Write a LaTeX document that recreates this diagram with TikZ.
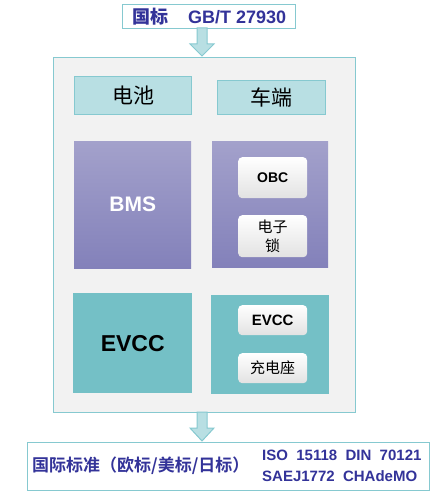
\documentclass[tikz,border=0pt]{standalone}
\usepackage{fontspec}
\setmainfont{Liberation Sans}
\newfontfamily\cjk{Noto Sans CJK SC}
\newfontfamily\cjkb{Noto Sans CJK SC Bold}
\usetikzlibrary{positioning}
\definecolor{navy}{HTML}{333399}
\definecolor{lteal}{HTML}{B8DFE3}
\definecolor{teal}{HTML}{74C0C6}
\definecolor{tealline}{HTML}{86C9D0}
\definecolor{mainbg}{HTML}{F2F2F2}
\definecolor{ptop}{HTML}{A3A1CB}
\definecolor{pbot}{HTML}{8381BA}
\definecolor{wbot}{HTML}{E2E2E2}
\tikzset{
  px/.style={x=1pt,y=-1pt},
  headbox/.style={draw=tealline,line width=1.2pt,fill=lteal,inner sep=0pt,anchor=north west},
  purplebox/.style={draw=none,top color=ptop,bottom color=pbot,inner sep=0pt,anchor=north west},
  tealbox/.style={draw=none,fill=teal,inner sep=0pt,anchor=north west},
  whitebox/.style={draw=none,rounded corners=4pt,top color=white,bottom color=wbot,inner sep=0pt,anchor=north west,text=black},
  bigarrow/.style={draw=tealline,fill=lteal,line width=1pt},
}
\begin{document}
\begin{tikzpicture}[px]
\useasboundingbox (0,0) rectangle (434,495);
% top box
\node[draw=tealline,line width=1.2pt,fill=white,inner sep=0pt,anchor=north west,minimum width=173pt,minimum height=24pt] (top) at (122,4) {};
\node[text=navy,font=\bfseries\fontsize{18}{20}\selectfont] (toptxt) at (top.center) {{\cjkb 国标}\hspace{20pt}GB/T 27930};
% main box
\node[draw=tealline,line width=1.2pt,fill=mainbg,inner sep=0pt,anchor=north west,minimum width=302pt,minimum height=355pt] (main) at (53,57) {};
% arrows
\draw[bigarrow] (197,28) -- (207,28) -- (207,44) -- (214,44) -- (202,56) -- (190,44) -- (197,44) -- cycle;
\draw[bigarrow] (197,412) -- (207,412) -- (207,428) -- (214,428) -- (202,441) -- (190,428) -- (197,428) -- cycle;
% header boxes
\node[headbox,minimum width=117pt,minimum height=38pt,font=\cjk\fontsize{21}{23}\selectfont] (bat) at (74,76) {电池};
\node[headbox,minimum width=108pt,minimum height=34pt,font=\cjk\fontsize{21}{23}\selectfont] (car) at (217,80) {车端};
% BMS
\node[purplebox,minimum width=117pt,minimum height=127pt,text=white,font=\bfseries\fontsize{21}{24}\selectfont] (bms) at (74,141) {BMS};
\node[purplebox,minimum width=116pt,minimum height=126pt] (carp) at (212,141) {};
\node[whitebox,minimum width=69pt,minimum height=41pt,font=\bfseries\fontsize{14}{16}\selectfont] (obc) at (238,157) {OBC};
\node[whitebox,minimum width=69pt,minimum height=42pt,font=\cjk\fontsize{15}{19}\selectfont,align=center] (lock) at (238,215) {电子\\锁};
% EVCC
\node[tealbox,minimum width=119pt,minimum height=100pt,text=black,font=\bfseries\fontsize{23}{26}\selectfont] (evcc) at (73,293) {EVCC};
\node[tealbox,minimum width=118pt,minimum height=99pt] (cart) at (211,295) {};
\node[whitebox,minimum width=69pt,minimum height=30pt,font=\bfseries\fontsize{15}{17}\selectfont] (evcc2) at (238,305) {EVCC};
\node[whitebox,minimum width=69pt,minimum height=30pt,font=\cjk\fontsize{15}{17}\selectfont] (socket) at (238,353) {充电座};
% bottom box
\node[draw=tealline,line width=1.2pt,fill=white,inner sep=0pt,anchor=north west,minimum width=402pt,minimum height=48pt] (bot) at (27,442) {};
\node[text=navy,anchor=west,font=\cjkb\fontsize{17}{19}\selectfont,inner sep=0pt] (bottxt) at (32,466) {国际标准（欧标/美标/日标）};
\node[text=navy,anchor=west,font=\bfseries\fontsize{15}{21}\selectfont,align=left,inner sep=0pt] (stds) at (262,466) {ISO\ \ 15118\ \ DIN\ \ 70121\\SAEJ1772\ \ CHAdeMO};
\end{tikzpicture}
\end{document}
